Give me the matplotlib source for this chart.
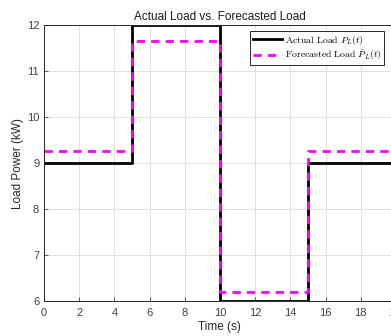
import matplotlib
matplotlib.use('Agg')
import matplotlib.pyplot as plt

plt.rcParams.update({
    'font.family': 'Liberation Sans',
    'mathtext.fontset': 'cm',
})

# step boundaries (s) and levels (kW)
t_edges = [0, 5, 10, 15, 20]
actual_load = [9, 12, 6, 9, 9]
forecast_load = [9.27, 11.65, 6.2, 9.27, 9.27]

fig = plt.figure(figsize=(3.91, 3.36), dpi=100)
ax = fig.add_axes([0.1125, 0.104, 0.900, 0.821])

ax.plot(t_edges, actual_load, drawstyle='steps-post', color='black', linewidth=2.0,
        label=r'$\mathrm{Actual\ Load}\ P_L(t)$')
ax.plot(t_edges, forecast_load, drawstyle='steps-post', color='#ff00ff', linewidth=2.0,
        linestyle=(0, (3, 2.2)), label=r'$\mathrm{Forecasted\ Load}\ \hat{P}_L(t)$')

ax.set_xlim(0, 20)
ax.set_ylim(6, 12)
ax.set_xticks(range(0, 21, 2))
ax.set_yticks(range(6, 13))
ax.grid(True, color='#e0e0e0', linewidth=0.7)
ax.set_axisbelow(True)
ax.tick_params(direction='in', length=3, labelsize=8, colors='#404040', width=0.6)
ax.tick_params(axis='x', pad=5)
for s in ax.spines.values():
    s.set_color('#262626')
    s.set_linewidth(0.7)

ax.set_xlabel('Time (s)', fontsize=8.5, color='#262626', labelpad=2)
ax.set_ylabel('Load Power (kW)', fontsize=8.5, color='#262626', labelpad=2)
ax.set_title('Actual Load vs. Forecasted Load', fontsize=8.5, color='#1a1a1a', pad=4)

leg = ax.legend(loc='upper right', bbox_to_anchor=(0.982, 0.907), bbox_transform=fig.transFigure,
                prop={'size': 7}, fancybox=False,
                edgecolor='#262626', framealpha=1, handlelength=3.0, borderpad=0.25,
                labelspacing=0.1, handletextpad=0.3, borderaxespad=0)
leg.get_frame().set_linewidth(0.7)

fig.savefig('out.png', dpi=100)
